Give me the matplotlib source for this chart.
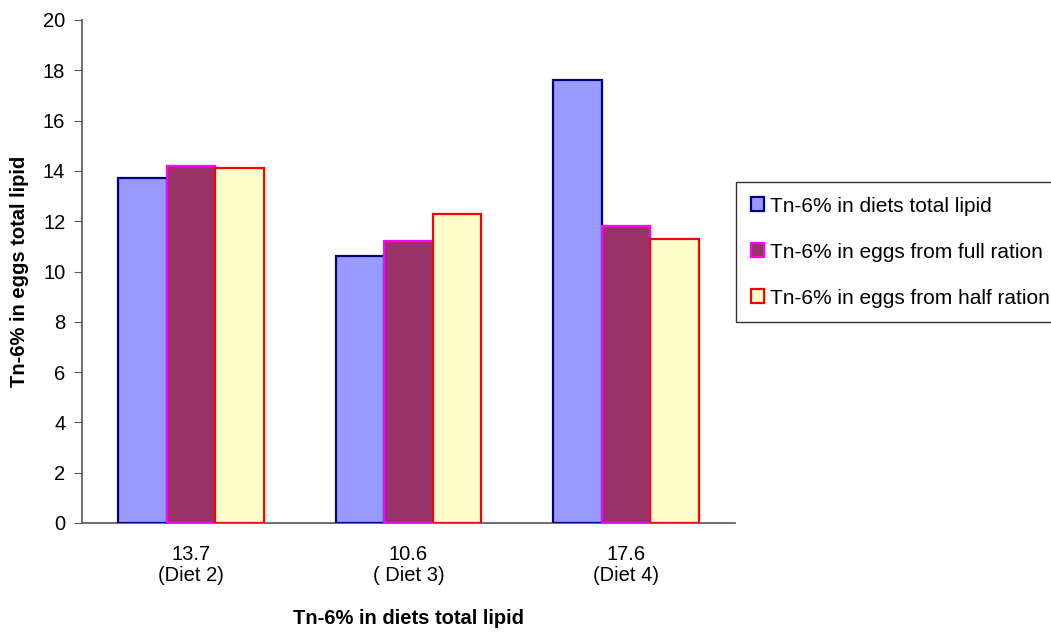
import numpy as np
import matplotlib.pyplot as plt
from matplotlib.patches import Patch

plt.rcParams['font.family'] = ['Liberation Sans', 'DejaVu Sans']

categories = ['13.7\n(Diet 2)', '10.6\n( Diet 3)', '17.6\n(Diet 4)']
diet_lipid = [13.7, 10.6, 17.6]
eggs_full = [14.2, 11.2, 11.8]
eggs_half = [14.1, 12.3, 11.3]

series = [
    (diet_lipid, '#9999FF', '#000080', 'Tn-6% in diets total lipid'),
    (eggs_full, '#993366', '#FF00FF', 'Tn-6% in eggs from full ration'),
    (eggs_half, '#FFFFCC', '#FF0000', 'Tn-6% in eggs from half ration'),
]

fig = plt.figure(figsize=(10.51, 6.32), dpi=100)
ax = fig.add_axes([82 / 1051, 1 - 523 / 632, (735 - 82) / 1051, (523 - 20) / 632])

x = np.arange(len(categories))
width = 0.223
handles = []
for i, (vals, fc, ec, lab) in enumerate(series):
    ax.bar(x + (i - 1) * width, vals, width, color=fc, edgecolor=ec, linewidth=1.6, zorder=3)
    handles.append(Patch(facecolor=fc, edgecolor=ec, linewidth=1.6, label=lab))

ax.set_xlim(-0.5, 2.5)
ax.set_ylim(0, 20)
ax.set_yticks(np.arange(0, 21, 2))
ax.set_xticks(x)
ax.set_xticklabels(categories, fontsize=14.5, linespacing=1.15)
ax.tick_params(axis='x', length=0, pad=16)
ax.tick_params(axis='y', labelsize=14.5, length=6, color='#555555', direction='out', pad=6)

for s in ['top', 'right']:
    ax.spines[s].set_visible(False)
for s in ['left', 'bottom']:
    ax.spines[s].set_color('#555555')
    ax.spines[s].set_linewidth(1.2)

ax.set_xlabel('Tn-6% in diets total lipid', fontsize=14.5, fontweight='bold', labelpad=17)
ax.set_ylabel('Tn-6% in eggs total lipid', fontsize=14.5, fontweight='bold', labelpad=10)

leg = fig.legend(handles=handles, loc='upper left', bbox_to_anchor=(736 / 1051, 1 - 182 / 632),
                 fontsize=15, frameon=True, fancybox=False, edgecolor='black',
                 handlelength=0.65, handleheight=0.65, handletextpad=0.3,
                 labelspacing=1.3, borderpad=0.7, borderaxespad=0)
leg.get_frame().set_linewidth(1.0)

fig.savefig('out.png', dpi=100)
